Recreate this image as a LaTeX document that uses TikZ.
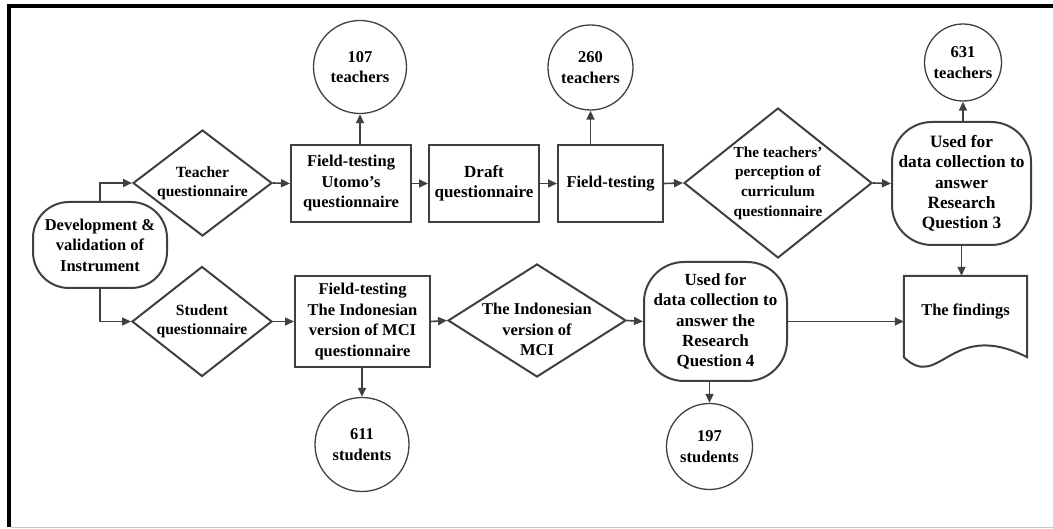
\documentclass[tikz,border=0pt]{standalone}
\usepackage{fontspec}
\setmainfont{Liberation Serif}
\usetikzlibrary{arrows.meta,shapes.geometric}
\definecolor{ln}{HTML}{404040}
\newcommand\myfs[2]{\fontsize{#1}{#2}\selectfont\bfseries}
\begin{document}
\begin{tikzpicture}[x=1pt,y=-1pt,
 base/.style={draw=ln, align=center, inner sep=0pt, font=\myfs{16.5}{20.5}},
 box/.style={base, line width=2pt, rectangle},
 term/.style={base, line width=2pt, rectangle, rounded corners=36pt},
 circ/.style={base, circle, line width=1.3pt},
 dia/.style={draw=ln, line width=2pt, diamond, inner sep=0pt},
 lbl/.style={align=center, inner sep=0pt, font=\myfs{16.5}{20.5}},
 arr/.style={draw=ln, line width=1.6pt, -{Triangle[length=9pt,width=8pt]}}
]
\useasboundingbox (0,0) rectangle (1053,529);
% frame
\draw[black, line width=4pt] (7,6) -- (1053,6);
\draw[black, line width=3.8pt] (9.2,4) -- (9.2,527);
\draw[black!22, line width=1.2pt] (11,527.6) -- (1053,527.6);

% nodes
\node[term, minimum width=134, minimum height=86] (dev) at (100,245) {Development \&\\validation of\\Instrument};
\node[dia, minimum width=139, minimum height=106,
  label={[lbl, font=\myfs{15.6}{19}]center:Teacher\\questionnaire}] (tq) at (202.5,183) {};
\node[dia, minimum width=140, minimum height=110,
  label={[lbl, font=\myfs{15.6}{19}]center:Student\\questionnaire}] (sq) at (202,321.5) {};
\node[box, minimum width=120, minimum height=77] (ft1) at (351,183.5) {Field-testing\\Utomo’s\\questionnaire};
\node[circ, minimum size=93] (c107) at (360,67) {107\\teachers};
\node[box, minimum width=110, minimum height=77, font=\myfs{17}{20.5}] (dq) at (484,183.5) {Draft\\questionnaire};
\node[box, minimum width=105, minimum height=77] (ft2) at (610.5,183.5) {Field-testing};
\node[circ, minimum size=85] (c260) at (590.5,67.5) {260\\teachers};
\node[dia, minimum width=188, minimum height=150,
  label={[lbl, font=\myfs{15.3}{19.7}]center:The teachers’\\perception of\\curriculum\\questionnaire}] (tp) at (778,183) {};
\node[term, minimum width=139, minimum height=123, rounded corners=40pt, font=\myfs{17.3}{20.3}] (rq3) at (961.5,183.5) {Used for\\data collection to\\answer\\Research\\Question 3};
\node[circ, minimum size=77] (c631) at (963,62.5) {631\\teachers};
\node[minimum width=123, minimum height=81, inner sep=0pt,
  label={[lbl, yshift=4.5pt]center:The findings}] (fd) at (965.5,316.5) {};
\draw[draw=ln, line width=2pt, line join=miter] (fd.south west) -- (fd.north west) -- (fd.north east) -- (fd.south east)
  .. controls (950,318) and (940,392) .. (fd.south west) -- cycle;
\node[box, minimum width=135, minimum height=91] (ft3) at (362.5,321.5) {Field-testing\\The Indonesian\\version of MCI\\questionnaire};
\node[circ, minimum size=94] (c611) at (362,444.5) {611\\students};
\node[dia, minimum width=178, minimum height=113,
  label={[lbl, yshift=-9pt]center:The Indonesian\\version of\\MCI}] (mci) at (537,320.5) {};
\node[term, minimum width=143, minimum height=119, rounded corners=40pt, font=\myfs{17}{20.3}] (rq4) at (715.5,321.5) {Used for\\data collection to\\answer the\\Research\\Question 4};
\node[circ, minimum size=86] (c197) at (709.5,446.5) {197\\students};

% connectors
\draw[arr] (dev.north) |- (tq.west);
\draw[arr] (dev.south) |- (sq.west);
\draw[arr] (tq.east) -- (ft1.west);
\draw[arr] (ft1.north -| c107.south) -- (c107.south);
\draw[arr] (ft1.east) -- (dq.west);
\draw[arr] (dq.east) -- (ft2.west);
\draw[arr] (ft2.north -| c260.south) -- (c260.south);
\draw[arr] (ft2.east) -- (tp.west);
\draw[arr] (tp.east) -- (rq3.west);
\draw[arr] (rq3.north -| c631.south) -- (c631.south);
\draw[arr] (rq3.south) -- (rq3.south |- fd.north);
\draw[arr] (sq.east) -- (ft3.west);
\draw[arr] (ft3.south -| c611.north) -- (c611.north);
\draw[arr] (ft3.east) -- (mci.west);
\draw[arr] (mci.east) -- (rq4.west);
\draw[arr] (rq4.south -| c197.north) -- (c197.north);
\draw[arr] (rq4.east) -- (rq4.east -| fd.west);
\end{tikzpicture}
\end{document}
